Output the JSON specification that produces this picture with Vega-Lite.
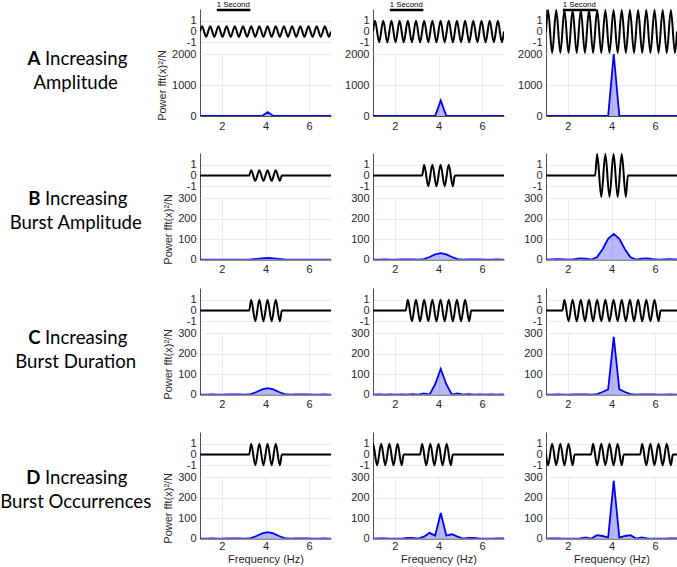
{
"$schema": "https://vega.github.io/schema/vega-lite/v6.json",
"padding": 0,
"background": "white",
"config": {
 "view": {"stroke": null},
 "axis": {"labelFont": "Liberation Sans", "labelFontSize": 11, "labelColor": "#262626", "titleFont": "Liberation Sans", "titleFontSize": 11, "titleFontWeight": "normal", "titleColor": "#262626", "domainColor": "#262626", "domainWidth": 0.8, "gridColor": "#e6e6e6", "gridWidth": 0.8, "grid": true, "ticks": false, "labelPadding": 4, "labelOverlap": false, "zindex": 0}
},
"datasets": {
 "lab": [
  {"row": "A", "letter": "A", "w1": "Increasing", "w2": "Amplitude"},
  {"row": "B", "letter": "B", "w1": "Increasing", "w2": "Burst Amplitude"},
  {"row": "C", "letter": "C", "w1": "Increasing", "w2": "Burst Duration"},
  {"row": "D", "letter": "D", "w1": "Increasing", "w2": "Burst Occurrences"}
 ],
 "sec": [{"t0": 0.5, "t1": 1.5, "label": "1 Second"}],
 "w": [
  {"p":"A1","t":0,"v":0},{"p":"A1","t":0.0609,"v":0.5},{"p":"A1","t":0.1828,"v":-0.5},{"p":"A1","t":0.3047,"v":0.5},{"p":"A1","t":0.4266,"v":-0.5},{"p":"A1","t":0.5484,"v":0.5},{"p":"A1","t":0.6703,"v":-0.5},{"p":"A1","t":0.7922,"v":0.5},{"p":"A1","t":0.9141,"v":-0.5},{"p":"A1","t":1.0359,"v":0.5},{"p":"A1","t":1.1578,"v":-0.5},{"p":"A1","t":1.2797,"v":0.5},{"p":"A1","t":1.4016,"v":-0.5},{"p":"A1","t":1.5234,"v":0.5},{"p":"A1","t":1.6453,"v":-0.5},{"p":"A1","t":1.7672,"v":0.5},{"p":"A1","t":1.8891,"v":-0.5},{"p":"A1","t":2.0109,"v":0.5},{"p":"A1","t":2.1328,"v":-0.5},{"p":"A1","t":2.2547,"v":0.5},{"p":"A1","t":2.3766,"v":-0.5},{"p":"A1","t":2.4984,"v":0.5},{"p":"A1","t":2.6203,"v":-0.5},{"p":"A1","t":2.7422,"v":0.5},{"p":"A1","t":2.8641,"v":-0.5},{"p":"A1","t":2.9859,"v":0.5},{"p":"A1","t":3.1078,"v":-0.5},{"p":"A1","t":3.2297,"v":0.5},{"p":"A1","t":3.3516,"v":-0.5},{"p":"A1","t":3.4734,"v":0.5},{"p":"A1","t":3.5953,"v":-0.5},{"p":"A1","t":3.7172,"v":0.5},{"p":"A1","t":3.8391,"v":-0.5},{"p":"A1","t":3.9,"v":0},
  {"p":"A2","t":0,"v":0},{"p":"A2","t":0.0609,"v":1},{"p":"A2","t":0.1828,"v":-1},{"p":"A2","t":0.3047,"v":1},{"p":"A2","t":0.4266,"v":-1},{"p":"A2","t":0.5484,"v":1},{"p":"A2","t":0.6703,"v":-1},{"p":"A2","t":0.7922,"v":1},{"p":"A2","t":0.9141,"v":-1},{"p":"A2","t":1.0359,"v":1},{"p":"A2","t":1.1578,"v":-1},{"p":"A2","t":1.2797,"v":1},{"p":"A2","t":1.4016,"v":-1},{"p":"A2","t":1.5234,"v":1},{"p":"A2","t":1.6453,"v":-1},{"p":"A2","t":1.7672,"v":1},{"p":"A2","t":1.8891,"v":-1},{"p":"A2","t":2.0109,"v":1},{"p":"A2","t":2.1328,"v":-1},{"p":"A2","t":2.2547,"v":1},{"p":"A2","t":2.3766,"v":-1},{"p":"A2","t":2.4984,"v":1},{"p":"A2","t":2.6203,"v":-1},{"p":"A2","t":2.7422,"v":1},{"p":"A2","t":2.8641,"v":-1},{"p":"A2","t":2.9859,"v":1},{"p":"A2","t":3.1078,"v":-1},{"p":"A2","t":3.2297,"v":1},{"p":"A2","t":3.3516,"v":-1},{"p":"A2","t":3.4734,"v":1},{"p":"A2","t":3.5953,"v":-1},{"p":"A2","t":3.7172,"v":1},{"p":"A2","t":3.8391,"v":-1},{"p":"A2","t":3.9,"v":0},
  {"p":"A3","t":0,"v":0},{"p":"A3","t":0.0609,"v":2},{"p":"A3","t":0.1828,"v":-2},{"p":"A3","t":0.3047,"v":2},{"p":"A3","t":0.4266,"v":-2},{"p":"A3","t":0.5484,"v":2},{"p":"A3","t":0.6703,"v":-2},{"p":"A3","t":0.7922,"v":2},{"p":"A3","t":0.9141,"v":-2},{"p":"A3","t":1.0359,"v":2},{"p":"A3","t":1.1578,"v":-2},{"p":"A3","t":1.2797,"v":2},{"p":"A3","t":1.4016,"v":-2},{"p":"A3","t":1.5234,"v":2},{"p":"A3","t":1.6453,"v":-2},{"p":"A3","t":1.7672,"v":2},{"p":"A3","t":1.8891,"v":-2},{"p":"A3","t":2.0109,"v":2},{"p":"A3","t":2.1328,"v":-2},{"p":"A3","t":2.2547,"v":2},{"p":"A3","t":2.3766,"v":-2},{"p":"A3","t":2.4984,"v":2},{"p":"A3","t":2.6203,"v":-2},{"p":"A3","t":2.7422,"v":2},{"p":"A3","t":2.8641,"v":-2},{"p":"A3","t":2.9859,"v":2},{"p":"A3","t":3.1078,"v":-2},{"p":"A3","t":3.2297,"v":2},{"p":"A3","t":3.3516,"v":-2},{"p":"A3","t":3.4734,"v":2},{"p":"A3","t":3.5953,"v":-2},{"p":"A3","t":3.7172,"v":2},{"p":"A3","t":3.8391,"v":-2},{"p":"A3","t":3.9,"v":0},
  {"p":"B1","t":0,"v":0},{"p":"B1","t":1.4625,"v":0},{"p":"B1","t":1.5234,"v":0.5},{"p":"B1","t":1.6453,"v":-0.5},{"p":"B1","t":1.7672,"v":0.5},{"p":"B1","t":1.8891,"v":-0.5},{"p":"B1","t":2.0109,"v":0.5},{"p":"B1","t":2.1328,"v":-0.5},{"p":"B1","t":2.2547,"v":0.5},{"p":"B1","t":2.3766,"v":-0.5},{"p":"B1","t":2.4375,"v":0},{"p":"B1","t":3.9,"v":0},
  {"p":"W1","t":0,"v":0},{"p":"W1","t":1.4625,"v":0},{"p":"W1","t":1.5234,"v":1},{"p":"W1","t":1.6453,"v":-1},{"p":"W1","t":1.7672,"v":1},{"p":"W1","t":1.8891,"v":-1},{"p":"W1","t":2.0109,"v":1},{"p":"W1","t":2.1328,"v":-1},{"p":"W1","t":2.2547,"v":1},{"p":"W1","t":2.3766,"v":-1},{"p":"W1","t":2.4375,"v":0},{"p":"W1","t":3.9,"v":0},
  {"p":"B3","t":0,"v":0},{"p":"B3","t":1.4625,"v":0},{"p":"B3","t":1.5234,"v":2},{"p":"B3","t":1.6453,"v":-2},{"p":"B3","t":1.7672,"v":2},{"p":"B3","t":1.8891,"v":-2},{"p":"B3","t":2.0109,"v":2},{"p":"B3","t":2.1328,"v":-2},{"p":"B3","t":2.2547,"v":2},{"p":"B3","t":2.3766,"v":-2},{"p":"B3","t":2.4375,"v":0},{"p":"B3","t":3.9,"v":0},
  {"p":"C2","t":0,"v":0},{"p":"C2","t":0.975,"v":0},{"p":"C2","t":1.0359,"v":1},{"p":"C2","t":1.1578,"v":-1},{"p":"C2","t":1.2797,"v":1},{"p":"C2","t":1.4016,"v":-1},{"p":"C2","t":1.5234,"v":1},{"p":"C2","t":1.6453,"v":-1},{"p":"C2","t":1.7672,"v":1},{"p":"C2","t":1.8891,"v":-1},{"p":"C2","t":2.0109,"v":1},{"p":"C2","t":2.1328,"v":-1},{"p":"C2","t":2.2547,"v":1},{"p":"C2","t":2.3766,"v":-1},{"p":"C2","t":2.4984,"v":1},{"p":"C2","t":2.6203,"v":-1},{"p":"C2","t":2.7422,"v":1},{"p":"C2","t":2.8641,"v":-1},{"p":"C2","t":2.925,"v":0},{"p":"C2","t":3.9,"v":0},
  {"p":"C3","t":0,"v":0},{"p":"C3","t":0.4875,"v":0},{"p":"C3","t":0.5484,"v":1},{"p":"C3","t":0.6703,"v":-1},{"p":"C3","t":0.7922,"v":1},{"p":"C3","t":0.9141,"v":-1},{"p":"C3","t":1.0359,"v":1},{"p":"C3","t":1.1578,"v":-1},{"p":"C3","t":1.2797,"v":1},{"p":"C3","t":1.4016,"v":-1},{"p":"C3","t":1.5234,"v":1},{"p":"C3","t":1.6453,"v":-1},{"p":"C3","t":1.7672,"v":1},{"p":"C3","t":1.8891,"v":-1},{"p":"C3","t":2.0109,"v":1},{"p":"C3","t":2.1328,"v":-1},{"p":"C3","t":2.2547,"v":1},{"p":"C3","t":2.3766,"v":-1},{"p":"C3","t":2.4984,"v":1},{"p":"C3","t":2.6203,"v":-1},{"p":"C3","t":2.7422,"v":1},{"p":"C3","t":2.8641,"v":-1},{"p":"C3","t":2.9859,"v":1},{"p":"C3","t":3.1078,"v":-1},{"p":"C3","t":3.2297,"v":1},{"p":"C3","t":3.3516,"v":-1},{"p":"C3","t":3.4125,"v":0},{"p":"C3","t":3.9,"v":0},
  {"p":"D2","t":-0.0609,"v":0},{"p":"D2","t":0,"v":1},{"p":"D2","t":0.1219,"v":-1},{"p":"D2","t":0.2438,"v":1},{"p":"D2","t":0.3656,"v":-1},{"p":"D2","t":0.4875,"v":1},{"p":"D2","t":0.6094,"v":-1},{"p":"D2","t":0.7313,"v":1},{"p":"D2","t":0.8531,"v":-1},{"p":"D2","t":0.9141,"v":0},{"p":"D2","t":1.4016,"v":0},{"p":"D2","t":1.4625,"v":1},{"p":"D2","t":1.5844,"v":-1},{"p":"D2","t":1.7063,"v":1},{"p":"D2","t":1.8281,"v":-1},{"p":"D2","t":1.95,"v":1},{"p":"D2","t":2.0719,"v":-1},{"p":"D2","t":2.1938,"v":1},{"p":"D2","t":2.3156,"v":-1},{"p":"D2","t":2.3766,"v":0},{"p":"D2","t":3.9,"v":0},
  {"p":"D3","t":-0.1219,"v":0},{"p":"D3","t":-0.0609,"v":1},{"p":"D3","t":0.0609,"v":-1},{"p":"D3","t":0.1828,"v":1},{"p":"D3","t":0.3047,"v":-1},{"p":"D3","t":0.4266,"v":1},{"p":"D3","t":0.5484,"v":-1},{"p":"D3","t":0.6703,"v":1},{"p":"D3","t":0.7922,"v":-1},{"p":"D3","t":0.8531,"v":0},{"p":"D3","t":1.3406,"v":0},{"p":"D3","t":1.4016,"v":1},{"p":"D3","t":1.5234,"v":-1},{"p":"D3","t":1.6453,"v":1},{"p":"D3","t":1.7672,"v":-1},{"p":"D3","t":1.8891,"v":1},{"p":"D3","t":2.0109,"v":-1},{"p":"D3","t":2.1328,"v":1},{"p":"D3","t":2.2547,"v":-1},{"p":"D3","t":2.3156,"v":0},{"p":"D3","t":2.8031,"v":0},{"p":"D3","t":2.8641,"v":1},{"p":"D3","t":2.9859,"v":-1},{"p":"D3","t":3.1078,"v":1},{"p":"D3","t":3.2297,"v":-1},{"p":"D3","t":3.3516,"v":1},{"p":"D3","t":3.4734,"v":-1},{"p":"D3","t":3.5953,"v":1},{"p":"D3","t":3.7172,"v":-1},{"p":"D3","t":3.7781,"v":0},{"p":"D3","t":3.9,"v":0}
 ],
 "s": [
  {"p":"A1","f":0.769,"y":0},{"p":"A1","f":3.846,"y":0},{"p":"A1","f":4.103,"y":125},{"p":"A1","f":4.359,"y":0},{"p":"A1","f":7.179,"y":0},
  {"p":"A2","f":0.769,"y":0},{"p":"A2","f":3.846,"y":0},{"p":"A2","f":4.103,"y":500},{"p":"A2","f":4.359,"y":0},{"p":"A2","f":7.179,"y":0},
  {"p":"A3","f":0.769,"y":0},{"p":"A3","f":3.846,"y":0},{"p":"A3","f":4.103,"y":1995},{"p":"A3","f":4.359,"y":0},{"p":"A3","f":7.179,"y":0},
  {"p":"S1","f":0.769,"y":0.15},{"p":"S1","f":1.026,"y":0},{"p":"S1","f":1.282,"y":0.21},{"p":"S1","f":1.538,"y":0.51},{"p":"S1","f":1.795,"y":0.31},{"p":"S1","f":2.051,"y":0},{"p":"S1","f":2.308,"y":0.52},{"p":"S1","f":2.564,"y":1.41},{"p":"S1","f":2.821,"y":1.01},{"p":"S1","f":3.077,"y":0},{"p":"S1","f":3.333,"y":2.81},{"p":"S1","f":3.59,"y":12.67},{"p":"S1","f":3.846,"y":25.33},{"p":"S1","f":4.103,"y":31.25},{"p":"S1","f":4.359,"y":25.33},{"p":"S1","f":4.615,"y":12.67},{"p":"S1","f":4.872,"y":2.81},{"p":"S1","f":5.128,"y":0},{"p":"S1","f":5.385,"y":1.01},{"p":"S1","f":5.641,"y":1.41},{"p":"S1","f":5.897,"y":0.52},{"p":"S1","f":6.154,"y":0},{"p":"S1","f":6.41,"y":0.31},{"p":"S1","f":6.667,"y":0.51},{"p":"S1","f":6.923,"y":0.21},{"p":"S1","f":7.179,"y":0},
  {"p":"B1","f":0.769,"y":0.04},{"p":"B1","f":1.026,"y":0},{"p":"B1","f":1.282,"y":0.05},{"p":"B1","f":1.538,"y":0.13},{"p":"B1","f":1.795,"y":0.08},{"p":"B1","f":2.051,"y":0},{"p":"B1","f":2.308,"y":0.13},{"p":"B1","f":2.564,"y":0.35},{"p":"B1","f":2.821,"y":0.25},{"p":"B1","f":3.077,"y":0},{"p":"B1","f":3.333,"y":0.7},{"p":"B1","f":3.59,"y":3.17},{"p":"B1","f":3.846,"y":6.33},{"p":"B1","f":4.103,"y":7.81},{"p":"B1","f":4.359,"y":6.33},{"p":"B1","f":4.615,"y":3.17},{"p":"B1","f":4.872,"y":0.7},{"p":"B1","f":5.128,"y":0},{"p":"B1","f":5.385,"y":0.25},{"p":"B1","f":5.641,"y":0.35},{"p":"B1","f":5.897,"y":0.13},{"p":"B1","f":6.154,"y":0},{"p":"B1","f":6.41,"y":0.08},{"p":"B1","f":6.667,"y":0.13},{"p":"B1","f":6.923,"y":0.05},{"p":"B1","f":7.179,"y":0},
  {"p":"B3","f":0.769,"y":0.6},{"p":"B3","f":1.026,"y":0},{"p":"B3","f":1.282,"y":0.84},{"p":"B3","f":1.538,"y":2.04},{"p":"B3","f":1.795,"y":1.24},{"p":"B3","f":2.051,"y":0},{"p":"B3","f":2.308,"y":2.08},{"p":"B3","f":2.564,"y":5.64},{"p":"B3","f":2.821,"y":4.04},{"p":"B3","f":3.077,"y":0},{"p":"B3","f":3.333,"y":11.24},{"p":"B3","f":3.59,"y":50.68},{"p":"B3","f":3.846,"y":101.32},{"p":"B3","f":4.103,"y":125},{"p":"B3","f":4.359,"y":101.32},{"p":"B3","f":4.615,"y":50.68},{"p":"B3","f":4.872,"y":11.24},{"p":"B3","f":5.128,"y":0},{"p":"B3","f":5.385,"y":4.04},{"p":"B3","f":5.641,"y":5.64},{"p":"B3","f":5.897,"y":2.08},{"p":"B3","f":6.154,"y":0},{"p":"B3","f":6.41,"y":1.24},{"p":"B3","f":6.667,"y":2.04},{"p":"B3","f":6.923,"y":0.84},{"p":"B3","f":7.179,"y":0},
  {"p":"C2","f":0.769,"y":0.3},{"p":"C2","f":1.026,"y":0},{"p":"C2","f":1.282,"y":0.42},{"p":"C2","f":1.538,"y":0},{"p":"C2","f":1.795,"y":0.63},{"p":"C2","f":2.051,"y":0},{"p":"C2","f":2.308,"y":1.03},{"p":"C2","f":2.564,"y":0},{"p":"C2","f":2.821,"y":2.03},{"p":"C2","f":3.077,"y":0},{"p":"C2","f":3.333,"y":5.63},{"p":"C2","f":3.59,"y":0},{"p":"C2","f":3.846,"y":50.66},{"p":"C2","f":4.103,"y":125},{"p":"C2","f":4.359,"y":50.66},{"p":"C2","f":4.615,"y":0},{"p":"C2","f":4.872,"y":5.63},{"p":"C2","f":5.128,"y":0},{"p":"C2","f":5.385,"y":2.03},{"p":"C2","f":5.641,"y":0},{"p":"C2","f":5.897,"y":1.03},{"p":"C2","f":6.154,"y":0},{"p":"C2","f":6.41,"y":0.63},{"p":"C2","f":6.667,"y":0},{"p":"C2","f":6.923,"y":0.42},{"p":"C2","f":7.179,"y":0},
  {"p":"C3","f":0.769,"y":0.15},{"p":"C3","f":1.026,"y":0},{"p":"C3","f":1.282,"y":0.21},{"p":"C3","f":1.538,"y":0.51},{"p":"C3","f":1.795,"y":0.31},{"p":"C3","f":2.051,"y":0},{"p":"C3","f":2.308,"y":0.52},{"p":"C3","f":2.564,"y":1.41},{"p":"C3","f":2.821,"y":1.01},{"p":"C3","f":3.077,"y":0},{"p":"C3","f":3.333,"y":2.81},{"p":"C3","f":3.59,"y":12.67},{"p":"C3","f":3.846,"y":25.33},{"p":"C3","f":4.103,"y":281.25},{"p":"C3","f":4.359,"y":25.33},{"p":"C3","f":4.615,"y":12.67},{"p":"C3","f":4.872,"y":2.81},{"p":"C3","f":5.128,"y":0},{"p":"C3","f":5.385,"y":1.01},{"p":"C3","f":5.641,"y":1.41},{"p":"C3","f":5.897,"y":0.52},{"p":"C3","f":6.154,"y":0},{"p":"C3","f":6.41,"y":0.31},{"p":"C3","f":6.667,"y":0.51},{"p":"C3","f":6.923,"y":0.21},{"p":"C3","f":7.179,"y":0},
  {"p":"D2","f":0.769,"y":0.51},{"p":"D2","f":1.026,"y":0},{"p":"D2","f":1.282,"y":0.72},{"p":"D2","f":1.538,"y":1.02},{"p":"D2","f":1.795,"y":0.18},{"p":"D2","f":2.051,"y":0},{"p":"D2","f":2.308,"y":0.3},{"p":"D2","f":2.564,"y":2.82},{"p":"D2","f":2.821,"y":3.45},{"p":"D2","f":3.077,"y":0},{"p":"D2","f":3.333,"y":9.6},{"p":"D2","f":3.59,"y":28},{"p":"D2","f":3.846,"y":14.5},{"p":"D2","f":4.103,"y":125},{"p":"D2","f":4.359,"y":15},{"p":"D2","f":4.615,"y":21},{"p":"D2","f":4.872,"y":9.6},{"p":"D2","f":5.128,"y":0},{"p":"D2","f":5.385,"y":3.45},{"p":"D2","f":5.641,"y":2.82},{"p":"D2","f":5.897,"y":0.3},{"p":"D2","f":6.154,"y":0},{"p":"D2","f":6.41,"y":0.18},{"p":"D2","f":6.667,"y":1.02},{"p":"D2","f":6.923,"y":0.72},{"p":"D2","f":7.179,"y":0},
  {"p":"D3","f":0.769,"y":0.87},{"p":"D3","f":1.026,"y":0},{"p":"D3","f":1.282,"y":1.22},{"p":"D3","f":1.538,"y":0.51},{"p":"D3","f":1.795,"y":0.05},{"p":"D3","f":2.051,"y":0},{"p":"D3","f":2.308,"y":0.09},{"p":"D3","f":2.564,"y":1.41},{"p":"D3","f":2.821,"y":5.9},{"p":"D3","f":3.077,"y":0},{"p":"D3","f":3.333,"y":16.4},{"p":"D3","f":3.59,"y":12.67},{"p":"D3","f":3.846,"y":4.35},{"p":"D3","f":4.103,"y":281.25},{"p":"D3","f":4.359,"y":4.35},{"p":"D3","f":4.615,"y":12.67},{"p":"D3","f":4.872,"y":16.4},{"p":"D3","f":5.128,"y":0},{"p":"D3","f":5.385,"y":5.9},{"p":"D3","f":5.641,"y":1.41},{"p":"D3","f":5.897,"y":0.09},{"p":"D3","f":6.154,"y":0},{"p":"D3","f":6.41,"y":0.05},{"p":"D3","f":6.667,"y":0.51},{"p":"D3","f":6.923,"y":1.22},{"p":"D3","f":7.179,"y":0}
 ]
},
"columns": 4,
"spacing": {"row": 0, "column": 42},
"bounds": "flush",
"align": "each",
"concat": [
 {"width":157,"height":45,"data":{"name":"lab"},"transform":[{"filter":{"field":"row","equal":"A"}}],"layer":[
  {"mark":{"type":"text","font":"Lato","fontSize":18.6,"fontWeight":"bold","align":"right","baseline":"middle","dx":-39,"dy":27.5,"color":"#000000"},"encoding":{"text":{"field":"letter"}}},
  {"mark":{"type":"text","font":"Lato","fontSize":18.6,"align":"left","baseline":"middle","dx":-34.5,"dy":27.5,"color":"#000000"},"encoding":{"text":{"field":"w1"}}},
  {"mark":{"type":"text","font":"Lato","fontSize":18.6,"align":"center","baseline":"middle","dx":-3.8,"dy":51.5,"color":"#000000"},"encoding":{"text":{"field":"w2"}}}]},
 {"width":131,"height":45,"layer":[
  {"data":{"name":"w"},"transform":[{"filter":{"field":"p","equal":"A1"}}],"mark":{"type":"line","interpolate":"monotone","color":"#000000","strokeWidth":2,"clip":true},"encoding":{"x":{"field":"t","type":"quantitative","scale":{"domain":[0,3.9],"nice":false,"zero":false},"axis":null},"y":{"field":"v","type":"quantitative","scale":{"domain":[-2.1,2.1],"nice":false,"zero":false},"axis":{"values":[-1,0,1],"title":null,"labelExpr":"datum.value"}}}},
  {"data":{"name":"sec"},"mark":{"type":"rule","color":"#000000","strokeWidth":2.5},"encoding":{"x":{"field":"t0","type":"quantitative","axis":null},"x2":{"field":"t1"},"y":{"datum":2.0,"type":"quantitative","axis":{"values":[-1,0,1],"title":null,"labelExpr":"datum.value"}}}},
  {"data":{"name":"sec"},"mark":{"type":"text","font":"Liberation Sans","fontSize":7.8,"align":"left","baseline":"bottom","dy":-1.5,"color":"#000000"},"encoding":{"x":{"field":"t0","type":"quantitative","axis":null},"y":{"datum":2.0,"type":"quantitative","axis":{"values":[-1,0,1],"title":null,"labelExpr":"datum.value"}},"text":{"field":"label"}}}]},
 {"width":131,"height":45,"layer":[
  {"data":{"name":"w"},"transform":[{"filter":{"field":"p","equal":"A2"}}],"mark":{"type":"line","interpolate":"monotone","color":"#000000","strokeWidth":2,"clip":true},"encoding":{"x":{"field":"t","type":"quantitative","scale":{"domain":[0,3.9],"nice":false,"zero":false},"axis":null},"y":{"field":"v","type":"quantitative","scale":{"domain":[-2.1,2.1],"nice":false,"zero":false},"axis":{"values":[-1,0,1],"title":null,"labelExpr":"datum.value"}}}},
  {"data":{"name":"sec"},"mark":{"type":"rule","color":"#000000","strokeWidth":2.5},"encoding":{"x":{"field":"t0","type":"quantitative","axis":null},"x2":{"field":"t1"},"y":{"datum":2.0,"type":"quantitative","axis":{"values":[-1,0,1],"title":null,"labelExpr":"datum.value"}}}},
  {"data":{"name":"sec"},"mark":{"type":"text","font":"Liberation Sans","fontSize":7.8,"align":"left","baseline":"bottom","dy":-1.5,"color":"#000000"},"encoding":{"x":{"field":"t0","type":"quantitative","axis":null},"y":{"datum":2.0,"type":"quantitative","axis":{"values":[-1,0,1],"title":null,"labelExpr":"datum.value"}},"text":{"field":"label"}}}]},
 {"width":131,"height":45,"layer":[
  {"data":{"name":"w"},"transform":[{"filter":{"field":"p","equal":"A3"}}],"mark":{"type":"line","interpolate":"monotone","color":"#000000","strokeWidth":2,"clip":true},"encoding":{"x":{"field":"t","type":"quantitative","scale":{"domain":[0,3.9],"nice":false,"zero":false},"axis":null},"y":{"field":"v","type":"quantitative","scale":{"domain":[-2.1,2.1],"nice":false,"zero":false},"axis":{"values":[-1,0,1],"title":null,"labelExpr":"datum.value"}}}},
  {"data":{"name":"sec"},"mark":{"type":"rule","color":"#000000","strokeWidth":2.5},"encoding":{"x":{"field":"t0","type":"quantitative","axis":null},"x2":{"field":"t1"},"y":{"datum":2.0,"type":"quantitative","axis":{"values":[-1,0,1],"title":null,"labelExpr":"datum.value"}}}},
  {"data":{"name":"sec"},"mark":{"type":"text","font":"Liberation Sans","fontSize":7.8,"align":"left","baseline":"bottom","dy":-1.5,"color":"#000000"},"encoding":{"x":{"field":"t0","type":"quantitative","axis":null},"y":{"datum":2.0,"type":"quantitative","axis":{"values":[-1,0,1],"title":null,"labelExpr":"datum.value"}},"text":{"field":"label"}}}]},

 {"width":157,"height":98.5,"data":{"values":[{}]},"mark":{"type":"text"},"encoding":{"text":{"value":""}}},
 {"width":131,"height":62,"data":{"name":"s"},"transform":[{"filter":{"field":"p","equal":"A1"}}],"encoding":{"x":{"field":"f","type":"quantitative","scale":{"domain":[1,7],"nice":false,"zero":false},"axis":{"values":[2,4,6],"title":null,"labelExpr":"datum.value"}},"y":{"field":"y","type":"quantitative","scale":{"domain":[0,2000],"nice":false},"axis":{"values":[0,1000,2000],"title":"Power fft(x)²/N","titlePadding":4,"labelExpr":"datum.value"}}},"layer":[{"mark":{"type":"area","fill":"#0000ff","fillOpacity":0.28,"clip":true}},{"mark":{"type":"line","color":"#0000ff","strokeWidth":1.8,"clip":true}}]},
 {"width":131,"height":62,"data":{"name":"s"},"transform":[{"filter":{"field":"p","equal":"A2"}}],"encoding":{"x":{"field":"f","type":"quantitative","scale":{"domain":[1,7],"nice":false,"zero":false},"axis":{"values":[2,4,6],"title":null,"labelExpr":"datum.value"}},"y":{"field":"y","type":"quantitative","scale":{"domain":[0,2000],"nice":false},"axis":{"values":[0,1000,2000],"title":null,"labelExpr":"datum.value"}}},"layer":[{"mark":{"type":"area","fill":"#0000ff","fillOpacity":0.28,"clip":true}},{"mark":{"type":"line","color":"#0000ff","strokeWidth":1.8,"clip":true}}]},
 {"width":131,"height":62,"data":{"name":"s"},"transform":[{"filter":{"field":"p","equal":"A3"}}],"encoding":{"x":{"field":"f","type":"quantitative","scale":{"domain":[1,7],"nice":false,"zero":false},"axis":{"values":[2,4,6],"title":null,"labelExpr":"datum.value"}},"y":{"field":"y","type":"quantitative","scale":{"domain":[0,2000],"nice":false},"axis":{"values":[0,1000,2000],"title":null,"labelExpr":"datum.value"}}},"layer":[{"mark":{"type":"area","fill":"#0000ff","fillOpacity":0.28,"clip":true}},{"mark":{"type":"line","color":"#0000ff","strokeWidth":1.8,"clip":true}}]},

 {"width":157,"height":45,"data":{"name":"lab"},"transform":[{"filter":{"field":"row","equal":"B"}}],"layer":[
  {"mark":{"type":"text","font":"Lato","fontSize":18.6,"fontWeight":"bold","align":"right","baseline":"middle","dx":-39,"dy":23.5,"color":"#000000"},"encoding":{"text":{"field":"letter"}}},
  {"mark":{"type":"text","font":"Lato","fontSize":18.6,"align":"left","baseline":"middle","dx":-34.5,"dy":23.5,"color":"#000000"},"encoding":{"text":{"field":"w1"}}},
  {"mark":{"type":"text","font":"Lato","fontSize":18.6,"align":"center","baseline":"middle","dx":-3.8,"dy":47.5,"color":"#000000"},"encoding":{"text":{"field":"w2"}}}]},
 {"width":131,"height":45,"data":{"name":"w"},"transform":[{"filter":{"field":"p","equal":"B1"}}],"mark":{"type":"line","interpolate":"monotone","color":"#000000","strokeWidth":2,"clip":true},"encoding":{"x":{"field":"t","type":"quantitative","scale":{"domain":[0,3.9],"nice":false,"zero":false},"axis":null},"y":{"field":"v","type":"quantitative","scale":{"domain":[-2.1,2.1],"nice":false,"zero":false},"axis":{"values":[-1,0,1],"title":null,"labelExpr":"datum.value"}}}},
 {"width":131,"height":45,"data":{"name":"w"},"transform":[{"filter":{"field":"p","equal":"W1"}}],"mark":{"type":"line","interpolate":"monotone","color":"#000000","strokeWidth":2,"clip":true},"encoding":{"x":{"field":"t","type":"quantitative","scale":{"domain":[0,3.9],"nice":false,"zero":false},"axis":null},"y":{"field":"v","type":"quantitative","scale":{"domain":[-2.1,2.1],"nice":false,"zero":false},"axis":{"values":[-1,0,1],"title":null,"labelExpr":"datum.value"}}}},
 {"width":131,"height":45,"data":{"name":"w"},"transform":[{"filter":{"field":"p","equal":"B3"}}],"mark":{"type":"line","interpolate":"monotone","color":"#000000","strokeWidth":2,"clip":true},"encoding":{"x":{"field":"t","type":"quantitative","scale":{"domain":[0,3.9],"nice":false,"zero":false},"axis":null},"y":{"field":"v","type":"quantitative","scale":{"domain":[-2.1,2.1],"nice":false,"zero":false},"axis":{"values":[-1,0,1],"title":null,"labelExpr":"datum.value"}}}},

 {"width":157,"height":89.5,"data":{"values":[{}]},"mark":{"type":"text"},"encoding":{"text":{"value":""}}},
 {"width":131,"height":61.6,"data":{"name":"s"},"transform":[{"filter":{"field":"p","equal":"B1"}}],"encoding":{"x":{"field":"f","type":"quantitative","scale":{"domain":[1,7],"nice":false,"zero":false},"axis":{"values":[2,4,6],"title":null,"labelExpr":"datum.value"}},"y":{"field":"y","type":"quantitative","scale":{"domain":[0,300],"nice":false},"axis":{"values":[0,100,200,300],"title":"Power fft(x)²/N","titlePadding":4,"labelExpr":"datum.value"}}},"layer":[{"mark":{"type":"area","fill":"#0000ff","fillOpacity":0.28,"clip":true}},{"mark":{"type":"line","color":"#0000ff","strokeWidth":1.8,"clip":true}}]},
 {"width":131,"height":61.6,"data":{"name":"s"},"transform":[{"filter":{"field":"p","equal":"S1"}}],"encoding":{"x":{"field":"f","type":"quantitative","scale":{"domain":[1,7],"nice":false,"zero":false},"axis":{"values":[2,4,6],"title":null,"labelExpr":"datum.value"}},"y":{"field":"y","type":"quantitative","scale":{"domain":[0,300],"nice":false},"axis":{"values":[0,100,200,300],"title":null,"labelExpr":"datum.value"}}},"layer":[{"mark":{"type":"area","fill":"#0000ff","fillOpacity":0.28,"clip":true}},{"mark":{"type":"line","color":"#0000ff","strokeWidth":1.8,"clip":true}}]},
 {"width":131,"height":61.6,"data":{"name":"s"},"transform":[{"filter":{"field":"p","equal":"B3"}}],"encoding":{"x":{"field":"f","type":"quantitative","scale":{"domain":[1,7],"nice":false,"zero":false},"axis":{"values":[2,4,6],"title":null,"labelExpr":"datum.value"}},"y":{"field":"y","type":"quantitative","scale":{"domain":[0,300],"nice":false},"axis":{"values":[0,100,200,300],"title":null,"labelExpr":"datum.value"}}},"layer":[{"mark":{"type":"area","fill":"#0000ff","fillOpacity":0.28,"clip":true}},{"mark":{"type":"line","color":"#0000ff","strokeWidth":1.8,"clip":true}}]},

 {"width":157,"height":45,"data":{"name":"lab"},"transform":[{"filter":{"field":"row","equal":"C"}}],"layer":[
  {"mark":{"type":"text","font":"Lato","fontSize":18.6,"fontWeight":"bold","align":"right","baseline":"middle","dx":-39,"dy":27.5,"color":"#000000"},"encoding":{"text":{"field":"letter"}}},
  {"mark":{"type":"text","font":"Lato","fontSize":18.6,"align":"left","baseline":"middle","dx":-34.5,"dy":27.5,"color":"#000000"},"encoding":{"text":{"field":"w1"}}},
  {"mark":{"type":"text","font":"Lato","fontSize":18.6,"align":"center","baseline":"middle","dx":-3.8,"dy":51,"color":"#000000"},"encoding":{"text":{"field":"w2"}}}]},
 {"width":131,"height":45,"data":{"name":"w"},"transform":[{"filter":{"field":"p","equal":"W1"}}],"mark":{"type":"line","interpolate":"monotone","color":"#000000","strokeWidth":2,"clip":true},"encoding":{"x":{"field":"t","type":"quantitative","scale":{"domain":[0,3.9],"nice":false,"zero":false},"axis":null},"y":{"field":"v","type":"quantitative","scale":{"domain":[-2.1,2.1],"nice":false,"zero":false},"axis":{"values":[-1,0,1],"title":null,"labelExpr":"datum.value"}}}},
 {"width":131,"height":45,"data":{"name":"w"},"transform":[{"filter":{"field":"p","equal":"C2"}}],"mark":{"type":"line","interpolate":"monotone","color":"#000000","strokeWidth":2,"clip":true},"encoding":{"x":{"field":"t","type":"quantitative","scale":{"domain":[0,3.9],"nice":false,"zero":false},"axis":null},"y":{"field":"v","type":"quantitative","scale":{"domain":[-2.1,2.1],"nice":false,"zero":false},"axis":{"values":[-1,0,1],"title":null,"labelExpr":"datum.value"}}}},
 {"width":131,"height":45,"data":{"name":"w"},"transform":[{"filter":{"field":"p","equal":"C3"}}],"mark":{"type":"line","interpolate":"monotone","color":"#000000","strokeWidth":2,"clip":true},"encoding":{"x":{"field":"t","type":"quantitative","scale":{"domain":[0,3.9],"nice":false,"zero":false},"axis":null},"y":{"field":"v","type":"quantitative","scale":{"domain":[-2.1,2.1],"nice":false,"zero":false},"axis":{"values":[-1,0,1],"title":null,"labelExpr":"datum.value"}}}},

 {"width":157,"height":98.5,"data":{"values":[{}]},"mark":{"type":"text"},"encoding":{"text":{"value":""}}},
 {"width":131,"height":61.6,"data":{"name":"s"},"transform":[{"filter":{"field":"p","equal":"S1"}}],"encoding":{"x":{"field":"f","type":"quantitative","scale":{"domain":[1,7],"nice":false,"zero":false},"axis":{"values":[2,4,6],"title":null,"labelExpr":"datum.value"}},"y":{"field":"y","type":"quantitative","scale":{"domain":[0,300],"nice":false},"axis":{"values":[0,100,200,300],"title":"Power fft(x)²/N","titlePadding":4,"labelExpr":"datum.value"}}},"layer":[{"mark":{"type":"area","fill":"#0000ff","fillOpacity":0.28,"clip":true}},{"mark":{"type":"line","color":"#0000ff","strokeWidth":1.8,"clip":true}}]},
 {"width":131,"height":61.6,"data":{"name":"s"},"transform":[{"filter":{"field":"p","equal":"C2"}}],"encoding":{"x":{"field":"f","type":"quantitative","scale":{"domain":[1,7],"nice":false,"zero":false},"axis":{"values":[2,4,6],"title":null,"labelExpr":"datum.value"}},"y":{"field":"y","type":"quantitative","scale":{"domain":[0,300],"nice":false},"axis":{"values":[0,100,200,300],"title":null,"labelExpr":"datum.value"}}},"layer":[{"mark":{"type":"area","fill":"#0000ff","fillOpacity":0.28,"clip":true}},{"mark":{"type":"line","color":"#0000ff","strokeWidth":1.8,"clip":true}}]},
 {"width":131,"height":61.6,"data":{"name":"s"},"transform":[{"filter":{"field":"p","equal":"C3"}}],"encoding":{"x":{"field":"f","type":"quantitative","scale":{"domain":[1,7],"nice":false,"zero":false},"axis":{"values":[2,4,6],"title":null,"labelExpr":"datum.value"}},"y":{"field":"y","type":"quantitative","scale":{"domain":[0,300],"nice":false},"axis":{"values":[0,100,200,300],"title":null,"labelExpr":"datum.value"}}},"layer":[{"mark":{"type":"area","fill":"#0000ff","fillOpacity":0.28,"clip":true}},{"mark":{"type":"line","color":"#0000ff","strokeWidth":1.8,"clip":true}}]},

 {"width":157,"height":45,"data":{"name":"lab"},"transform":[{"filter":{"field":"row","equal":"D"}}],"layer":[
  {"mark":{"type":"text","font":"Lato","fontSize":18.6,"fontWeight":"bold","align":"right","baseline":"middle","dx":-39,"dy":23.5,"color":"#000000"},"encoding":{"text":{"field":"letter"}}},
  {"mark":{"type":"text","font":"Lato","fontSize":18.6,"align":"left","baseline":"middle","dx":-34.5,"dy":23.5,"color":"#000000"},"encoding":{"text":{"field":"w1"}}},
  {"mark":{"type":"text","font":"Lato","fontSize":18.6,"align":"center","baseline":"middle","dx":-3.8,"dy":47,"color":"#000000"},"encoding":{"text":{"field":"w2"}}}]},
 {"width":131,"height":45,"data":{"name":"w"},"transform":[{"filter":{"field":"p","equal":"W1"}}],"mark":{"type":"line","interpolate":"monotone","color":"#000000","strokeWidth":2,"clip":true},"encoding":{"x":{"field":"t","type":"quantitative","scale":{"domain":[0,3.9],"nice":false,"zero":false},"axis":null},"y":{"field":"v","type":"quantitative","scale":{"domain":[-2.1,2.1],"nice":false,"zero":false},"axis":{"values":[-1,0,1],"title":null,"labelExpr":"datum.value"}}}},
 {"width":131,"height":45,"data":{"name":"w"},"transform":[{"filter":{"field":"p","equal":"D2"}}],"mark":{"type":"line","interpolate":"monotone","color":"#000000","strokeWidth":2,"clip":true},"encoding":{"x":{"field":"t","type":"quantitative","scale":{"domain":[0,3.9],"nice":false,"zero":false},"axis":null},"y":{"field":"v","type":"quantitative","scale":{"domain":[-2.1,2.1],"nice":false,"zero":false},"axis":{"values":[-1,0,1],"title":null,"labelExpr":"datum.value"}}}},
 {"width":131,"height":45,"data":{"name":"w"},"transform":[{"filter":{"field":"p","equal":"D3"}}],"mark":{"type":"line","interpolate":"monotone","color":"#000000","strokeWidth":2,"clip":true},"encoding":{"x":{"field":"t","type":"quantitative","scale":{"domain":[0,3.9],"nice":false,"zero":false},"axis":null},"y":{"field":"v","type":"quantitative","scale":{"domain":[-2.1,2.1],"nice":false,"zero":false},"axis":{"values":[-1,0,1],"title":null,"labelExpr":"datum.value"}}}},

 {"width":157,"height":61.6,"data":{"values":[{}]},"mark":{"type":"text"},"encoding":{"text":{"value":""}}},
 {"width":131,"height":61.6,"data":{"name":"s"},"transform":[{"filter":{"field":"p","equal":"S1"}}],"encoding":{"x":{"field":"f","type":"quantitative","scale":{"domain":[1,7],"nice":false,"zero":false},"axis":{"values":[2,4,6],"title":"Frequency (Hz)","titlePadding":2,"labelPadding":2,"labelExpr":"datum.value"}},"y":{"field":"y","type":"quantitative","scale":{"domain":[0,300],"nice":false},"axis":{"values":[0,100,200,300],"title":"Power fft(x)²/N","titlePadding":4,"labelExpr":"datum.value"}}},"layer":[{"mark":{"type":"area","fill":"#0000ff","fillOpacity":0.28,"clip":true}},{"mark":{"type":"line","color":"#0000ff","strokeWidth":1.8,"clip":true}}]},
 {"width":131,"height":61.6,"data":{"name":"s"},"transform":[{"filter":{"field":"p","equal":"D2"}}],"encoding":{"x":{"field":"f","type":"quantitative","scale":{"domain":[1,7],"nice":false,"zero":false},"axis":{"values":[2,4,6],"title":"Frequency (Hz)","titlePadding":2,"labelPadding":2,"labelExpr":"datum.value"}},"y":{"field":"y","type":"quantitative","scale":{"domain":[0,300],"nice":false},"axis":{"values":[0,100,200,300],"title":null,"labelExpr":"datum.value"}}},"layer":[{"mark":{"type":"area","fill":"#0000ff","fillOpacity":0.28,"clip":true}},{"mark":{"type":"line","color":"#0000ff","strokeWidth":1.8,"clip":true}}]},
 {"width":131,"height":61.6,"data":{"name":"s"},"transform":[{"filter":{"field":"p","equal":"D3"}}],"encoding":{"x":{"field":"f","type":"quantitative","scale":{"domain":[1,7],"nice":false,"zero":false},"axis":{"values":[2,4,6],"title":"Frequency (Hz)","titlePadding":2,"labelPadding":2,"labelExpr":"datum.value"}},"y":{"field":"y","type":"quantitative","scale":{"domain":[0,300],"nice":false},"axis":{"values":[0,100,200,300],"title":null,"labelExpr":"datum.value"}}},"layer":[{"mark":{"type":"area","fill":"#0000ff","fillOpacity":0.28,"clip":true}},{"mark":{"type":"line","color":"#0000ff","strokeWidth":1.8,"clip":true}}]}
]
}
